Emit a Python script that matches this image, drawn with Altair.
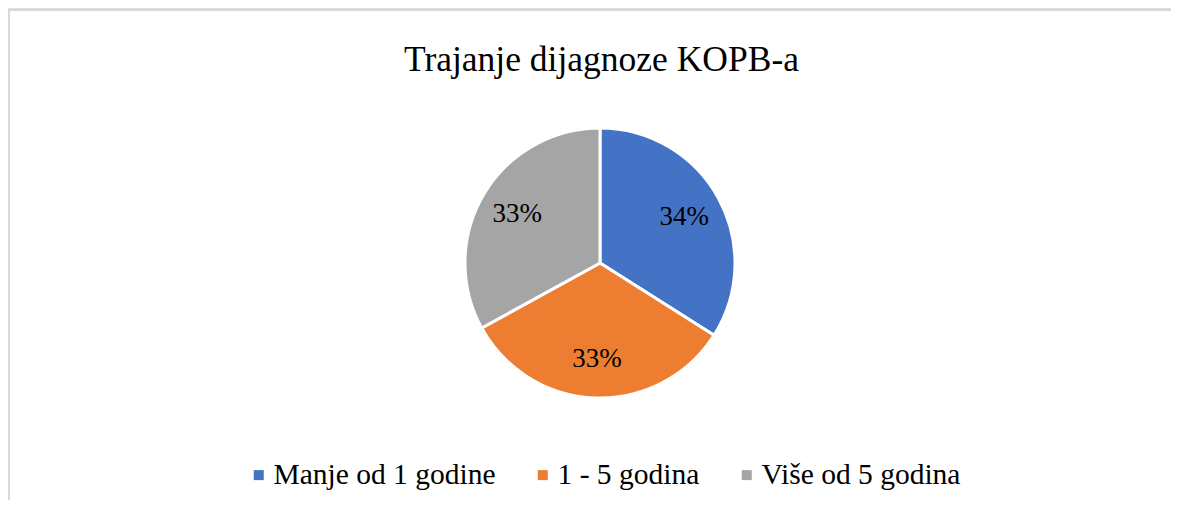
import altair as alt
import pandas as pd

categories = ["Manje od 1 godine", "1 - 5 godina", "Više od 5 godina"]
values = [34, 33, 33]
labels = ["34%", "33%", "33%"]
colors = ["#4472C4", "#ED7D31", "#A5A5A5"]

df = pd.DataFrame({
    "category": categories,
    "value": values,
    "label": labels,
    "order": list(range(len(categories))),
})

FONT = "Liberation Serif"
CX, CY = 592, 255

base = alt.Chart(df).encode(
    theta=alt.Theta("value:Q", stack=True),
    order=alt.Order("order:Q"),
)

pie = base.mark_arc(outerRadius=135, stroke="white", strokeWidth=3).encode(
    x=alt.value(CX),
    y=alt.value(CY),
    color=alt.Color(
        "category:N",
        sort=categories,
        scale=alt.Scale(domain=categories, range=colors),
        legend=alt.Legend(
            title=None,
            orient="none",
            legendX=236,
            legendY=452,
            direction="horizontal",
            symbolType="square",
            symbolSize=100,
            symbolStrokeWidth=0,
            labelFont=FONT,
            labelFontSize=29.5,
            labelColor="#000000",
            labelOffset=0,
            labelLimit=0,
            columnPadding=32,
            padding=0,
        ),
    ),
)

text = base.mark_text(radius=96, font=FONT, fontSize=27, color="#000000",
                      baseline="middle", align="center").encode(
    x=alt.value(CX),
    y=alt.value(CY),
    text="label:N",
)

border_top = alt.Chart(df).mark_rule(color="#d9d9d9", strokeWidth=2).encode(
    x=alt.value(0), x2=alt.value(1163), y=alt.value(2)
)
border_left = alt.Chart(df).mark_rule(color="#d9d9d9", strokeWidth=2).encode(
    x=alt.value(1), y=alt.value(1), y2=alt.value(492)
)

chart = alt.layer(border_top, border_left, pie, text).properties(
    width=1163,
    height=492,
    autosize=alt.AutoSizeParams(type="none"),
    padding=0,
    title=alt.TitleParams(
        "Trajanje dijagnoze KOPB-a",
        font=FONT,
        fontSize=35.5,
        fontWeight="normal",
        color="#000000",
        anchor="middle",
        baseline="alphabetic",
        dy=102,
        dx=12,
    ),
).configure_view(strokeWidth=0, stroke="transparent").configure(
    background="white", font=FONT
).configure_legend(labelFont=FONT).configure_text(font=FONT)

chart.save("out.html", embed_options={"renderer": "svg", "actions": False})
